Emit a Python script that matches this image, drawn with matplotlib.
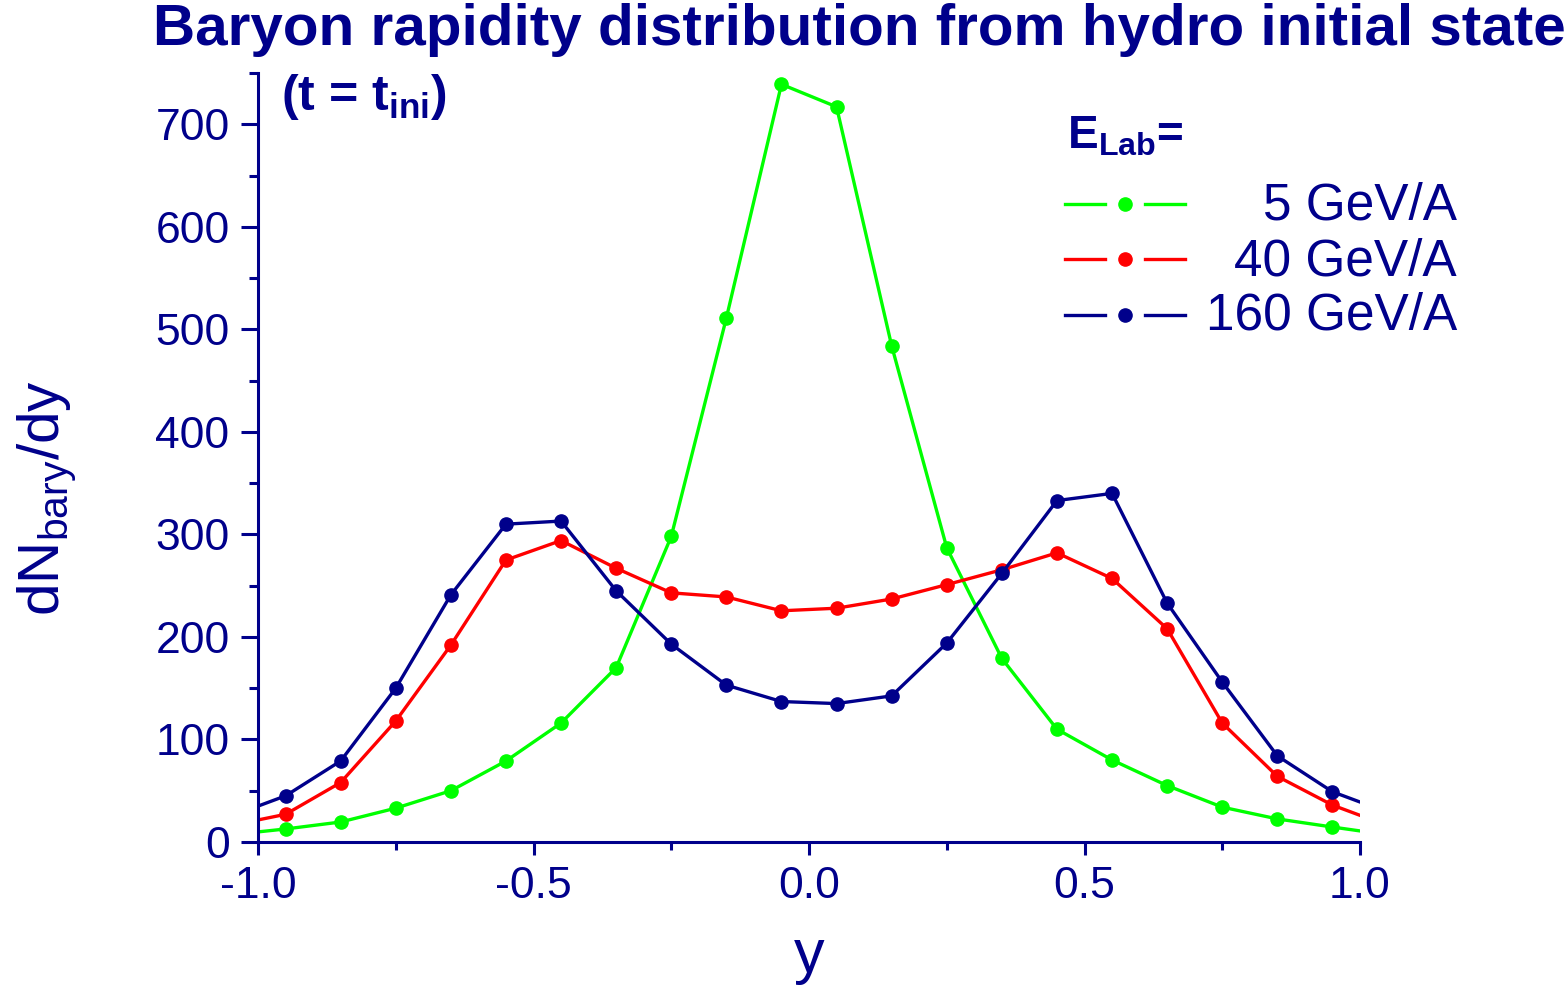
import matplotlib
matplotlib.use("Agg")
import matplotlib.pyplot as plt
from matplotlib.lines import Line2D
from matplotlib.ticker import MultipleLocator, FormatStrFormatter

# ---------------- data ----------------
y_rap = [-1.05, -0.95, -0.85, -0.75, -0.65, -0.55, -0.45, -0.35, -0.25, -0.15, -0.05,
         0.05, 0.15, 0.25, 0.35, 0.45, 0.55, 0.65, 0.75, 0.85, 0.95, 1.05]
dn_5 = [7, 12.7, 19.5, 33, 50, 79, 116, 170, 298, 511, 739,
        717, 484, 287, 179, 110, 80, 55, 34, 22.5, 14.6, 7]
dn_40 = [16, 27, 58, 118, 192, 275, 294, 267, 243, 239, 225.5,
         228, 237, 251, 265.5, 282, 257, 208, 116, 64, 36, 16]
dn_160 = [25, 45, 79, 150, 241, 310, 313, 245, 193, 153, 137,
          135, 142.5, 194, 262, 333, 340, 233, 156, 84, 49, 29]
labels = ["5 GeV/A", "40 GeV/A", "160 GeV/A"]
colors = ["#00FF00", "#FF0000", "#00008B"]
series = [dn_5, dn_40, dn_160]
x_ticks = [-1.0, -0.5, 0.0, 0.5, 1.0]
y_ticks = [0, 100, 200, 300, 400, 500, 600, 700]

NAVY = "#00008B"
plt.rcParams["font.family"] = ["Liberation Sans", "DejaVu Sans"]
plt.rcParams["mathtext.fontset"] = "custom"
plt.rcParams["mathtext.rm"] = "Liberation Sans"
plt.rcParams["mathtext.bf"] = "Liberation Sans:bold"
plt.rcParams["mathtext.it"] = "Liberation Sans:italic"
plt.rcParams["axes.unicode_minus"] = False

W, H = 1564, 985
fig = plt.figure(figsize=(W / 100, H / 100), dpi=100)
ax = fig.add_axes([258 / W, 143 / H, (1360 - 258) / W, (912 - 143) / H])

for vals, c in zip(series, colors):
    ax.plot(y_rap, vals, color=c, lw=2.4, marker="o", ms=9.5, mec=c, mfc=c)

ax.set_xlim(-1.0, 1.0)
ax.set_ylim(0, 750)
ax.set_xticks(x_ticks)
ax.set_yticks(y_ticks)
ax.xaxis.set_minor_locator(MultipleLocator(0.25))
ax.yaxis.set_minor_locator(MultipleLocator(50))
ax.xaxis.set_major_formatter(FormatStrFormatter("%.1f"))

for s in ["top", "right"]:
    ax.spines[s].set_visible(False)
for s in ["left", "bottom"]:
    ax.spines[s].set_color(NAVY)
    ax.spines[s].set_linewidth(2.2)

ax.tick_params(axis="both", which="both", direction="out", colors=NAVY,
               labelcolor=NAVY, width=2.2, labelsize=32, pad=8)
ax.tick_params(axis="y", which="major", length=12.5)
ax.tick_params(axis="y", which="minor", length=6.5)
ax.tick_params(axis="x", which="major", length=9.5)
ax.tick_params(axis="x", which="minor", length=6)

ax.set_xlabel("y", fontsize=44, color=NAVY, va="baseline")
ax.xaxis.set_label_coords(0.5, -0.169)
ax.set_ylabel(r"dN$_{\mathrm{bary}}$/dy", fontsize=42, color=NAVY,
              va="center", ha="center")
ax.yaxis.set_label_coords((47 - 258) / 1102, (842 - 498) / 769)

# title and annotations
fig.text(153 / W, 1 - 45 / H, "Baryon rapidity distribution from hydro initial state",
         fontsize=42, fontweight="bold", color=NAVY, ha="left", va="baseline")
fig.text(281 / W, 1 - 110 / H, r"(t = t$_{\mathbf{ini}}$)", fontsize=36,
         fontweight="bold", color=NAVY, ha="left", va="baseline")
fig.text(1067 / W, 1 - 148 / H, r"E$_{\mathbf{Lab}}$=", fontsize=33,
         fontweight="bold", color=NAVY, ha="left", va="baseline")

# legend (manual, right-aligned labels)
row_centers = [204, 259, 315]
row_baselines = [220, 275, 330]
for lab, c, yc, yb in zip(labels, colors, row_centers, row_baselines):
    yf = 1 - yc / H
    for xa, xb in [(1065, 1105), (1145, 1185)]:
        fig.add_artist(Line2D([xa / W, xb / W], [yf, yf], transform=fig.transFigure,
                              color=c, lw=2.4))
    fig.add_artist(Line2D([1125 / W], [yf], transform=fig.transFigure, color=c,
                          marker="o", ms=9.5, mec=c, mfc=c, lw=0))
    fig.text(1457 / W, 1 - yb / H, lab, fontsize=37, color=NAVY,
             ha="right", va="baseline")

fig.savefig("out.png", dpi=100)
